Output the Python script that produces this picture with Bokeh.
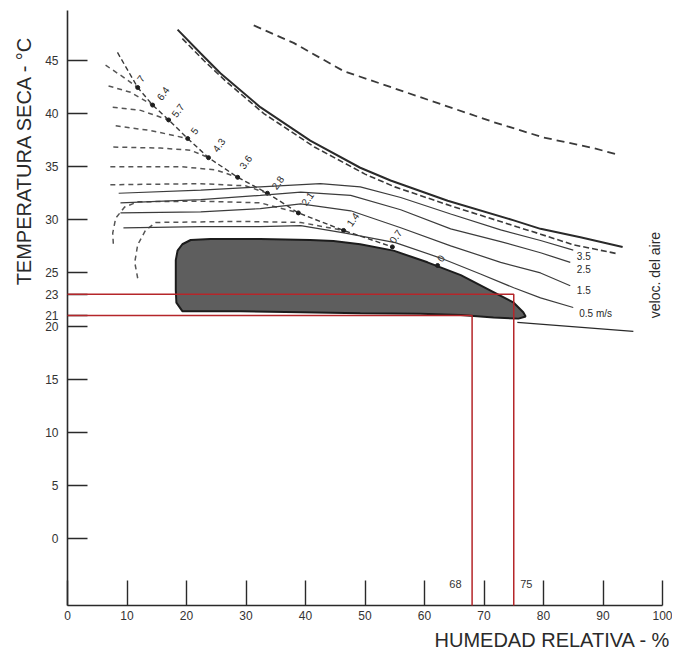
import math
from bokeh.plotting import figure
from bokeh.models import Range1d, FixedTicker, Title
from bokeh.core.properties import value
from bokeh.embed import file_html
from bokeh.resources import INLINE

# ---------------- data (RH %, dry temperature degC) ----------------
x_ticks = [0, 10, 20, 30, 40, 50, 60, 70, 80, 90, 100]
y_ticks = [0, 5, 10, 15, 20, 21, 23, 25, 30, 35, 40, 45]

# comfort zone outline
zone_rh = [19.3, 18.3, 18.2, 18.2, 18.5, 19.3, 20.7, 24.0, 32.4, 40.8, 44.7, 49.2, 54.8, 60.5,
           66.1, 71.6, 75.0, 76.6, 77.0, 75.8, 71.6, 66.1, 59.3, 49.2, 39.2, 29.1, 19.3]
zone_t = [21.4, 22.2, 23.4, 26.2, 27.1, 27.7, 28.1, 28.2, 28.2, 28.1, 28.0, 27.7, 27.1, 26.0,
          24.8, 23.2, 22.2, 21.3, 20.9, 20.7, 20.8, 21.05, 21.15, 21.2, 21.3, 21.4, 21.4]

# lower limit extension
low_rh = [75.6, 95.1]
low_t = [20.35, 19.5]

# upper limit (solid) and its dashed companion
upper_rh = [18.5, 22.4, 25.7, 32.4, 40.8, 49.2, 54.3, 63.9, 75.0, 79.5, 86.2, 93.3]
upper_t = [47.9, 45.65, 43.8, 40.6, 37.45, 34.9, 33.7, 31.8, 29.95, 29.15, 28.35, 27.45]
upper2_rh = [19.3, 23.0, 26.5, 33.0, 41.5, 50.0, 55.0, 64.5, 75.5, 79.5, 85.0, 92.5]
upper2_t = [47.05, 44.95, 43.1, 40.0, 36.85, 34.3, 33.1, 31.3, 29.35, 28.65, 27.65, 26.8]

# top dashed curve
top_rh = [31.3, 38.0, 46.4, 54.8, 63.2, 71.6, 80.0, 88.4, 92.4]
top_t = [48.3, 46.65, 44.0, 42.4, 40.8, 39.2, 37.75, 36.75, 36.15]

# diagonal dashed line with moisture markers
diag_rh = [8.4, 11.8, 14.3, 17.0, 20.2, 23.7, 28.6, 33.6, 38.8, 46.4, 54.6]
diag_t = [45.75, 42.45, 40.8, 39.4, 37.65, 35.85, 34.0, 32.5, 30.65, 29.0, 27.45]
mark_rh = [11.8, 14.3, 17.0, 20.2, 23.7, 28.6, 33.6, 38.8, 46.4, 54.6, 62.2]
mark_t = [42.45, 40.8, 39.4, 37.65, 35.85, 34.0, 32.5, 30.65, 29.0, 27.45, 25.7]
mark_lbl = ["7", "6.4", "5.7", "5", "4.3", "3.6", "2.8", "2.1", "1.4", "0.7", "0"]
mlbl_rh = [12.3, 16.0, 18.5, 21.3, 25.4, 29.9, 35.3, 40.3, 47.9, 55.1, 62.7]
mlbl_t = [43.3, 41.9, 40.3, 38.4, 37.05, 35.45, 33.5, 32.0, 30.05, 28.45, 26.4]

# fan of dashed lines
fan = [
    ([6.4, 9.2, 11.8], [44.55, 43.5, 42.45]),
    ([6.9, 10.6, 14.3], [42.6, 42.0, 40.8]),
    ([7.6, 12.3, 17.0], [40.6, 40.3, 39.4]),
    ([8.1, 14.0, 20.2], [38.85, 38.4, 37.65]),
    ([7.7, 15.6, 20.7, 23.7], [36.85, 36.75, 36.55, 35.85]),
    ([7.2, 19.0, 24.9, 28.6], [35.0, 35.0, 34.7, 34.0]),
    ([7.2, 22.4, 29.9, 33.6], [33.3, 33.4, 33.2, 32.5]),
    ([7.7, 7.6, 8.1, 9.6, 11.8, 22.4, 32.4, 38.8], [27.75, 28.75, 30.15, 31.2, 31.7, 31.75, 31.6, 30.65]),
    ([11.8, 11.3, 11.8, 13.1, 14.8, 29.1, 39.2, 46.4], [24.5, 26.0, 27.65, 29.0, 29.75, 29.85, 29.75, 29.0]),
]

# air velocity lines
v35_rh = [8.6, 22.4, 32.4, 42.5, 49.2, 56.0, 64.4, 72.8, 79.5, 85.0]
v35_t = [32.5, 32.8, 33.1, 33.4, 33.1, 32.1, 30.55, 29.05, 28.05, 27.15]
v25_rh = [8.9, 22.4, 32.4, 39.2, 47.6, 56.0, 64.4, 72.8, 79.5, 84.5]
v25_t = [31.6, 31.9, 32.3, 32.6, 32.3, 30.95, 29.15, 27.95, 26.9, 26.0]
v15_rh = [8.9, 22.4, 32.4, 39.2, 47.6, 56.0, 64.4, 72.8, 79.5, 84.5]
v15_t = [30.65, 30.75, 31.05, 31.5, 30.85, 29.25, 27.55, 26.0, 25.0, 23.8]
v05_rh = [9.4, 22.4, 32.4, 39.2, 46.7, 55.1, 62.7, 69.4, 75.0, 79.5, 85.0]
v05_t = [29.25, 29.35, 29.35, 29.45, 28.75, 27.85, 26.4, 24.9, 23.6, 22.65, 21.75]
vel_lbl = ["3.5", "2.5", "1.5", "0.5 m/s"]
vel_lbl_rh = [85.6, 85.6, 85.6, 86.0]
vel_lbl_t = [26.6, 25.4, 23.4, 21.15]

# red reading lines
red_t = [23, 21]
red_rh = [75, 68]
red_lbl = ["68", "75"]
red_lbl_rh = [65.2, 77.1]
red_lbl_t = [-4.25, -4.25]

FONT = "Liberation Sans"
INK = "#2a2a2a"

p = figure(width=672, height=657, x_range=Range1d(0, 100), y_range=Range1d(-6.3, 49.7),
           output_backend="svg", toolbar_location=None,
           min_border_left=67, min_border_right=10, min_border_top=10, min_border_bottom=52)
p.grid.visible = False
p.outline_line_color = None
p.background_fill_color = "white"

for ax in (p.xaxis[0], p.yaxis[0]):
    ax.major_tick_out = 0
    ax.minor_tick_line_color = None
    ax.axis_line_color = INK
    ax.axis_line_width = 1.6
    ax.major_tick_line_color = INK
    ax.major_tick_line_width = 1.4
    ax.major_label_text_font = FONT
    ax.major_label_text_font_size = "12px"
    ax.major_label_text_color = "#333333"

p.xaxis.ticker = FixedTicker(ticks=x_ticks)
p.xaxis.major_tick_in = 25
p.xaxis.major_label_standoff = 5
p.yaxis.ticker = FixedTicker(ticks=y_ticks)
p.yaxis.major_tick_in = 20
p.yaxis.major_label_standoff = 9

p.add_layout(Title(text="HUMEDAD RELATIVA - %", align="right", offset=-8, text_font=FONT,
                   text_font_size="20px", text_font_style="normal", text_color=INK,
                   standoff=9), "below")
p.add_layout(Title(text="TEMPERATURA SECA - \u00b0C", align="right", offset=25, text_font=FONT,
                   text_font_size="20px", text_font_style="normal", text_color=INK,
                   standoff=16), "left")

# comfort zone
p.patch(zone_rh, zone_t, fill_color="#5e5e5e", line_color="#1c1c1c", line_width=2)
p.line(low_rh, low_t, line_color=INK, line_width=1.4)

# upper curves
p.line(upper_rh, upper_t, line_color=INK, line_width=2)
p.line(upper2_rh, upper2_t, line_color="#3a3a3a", line_width=1.6, line_dash="6 3")
p.line(top_rh, top_t, line_color="#3a3a3a", line_width=1.8, line_dash="8 5")

# fan dashed lines and diagonal
for frh, ft in fan:
    p.line(frh, ft, line_color="#555555", line_width=1.5, line_dash="5 4")
p.line(diag_rh, diag_t, line_color="#3a3a3a", line_width=1.4, line_dash="5 3")
p.scatter(mark_rh, mark_t, size=4, color="#1e1e1e")
p.text(mlbl_rh, mlbl_t, text=mark_lbl, angle=0.95, text_font=value(FONT), text_font_size="10px",
       text_color=INK, text_align="center", text_baseline="middle")

# velocity lines
for vr, vt in ((v35_rh, v35_t), (v25_rh, v25_t), (v15_rh, v15_t), (v05_rh, v05_t)):
    p.line(vr, vt, line_color="#3c3c3c", line_width=1.2)
p.text(vel_lbl_rh, vel_lbl_t, text=vel_lbl, text_font=value(FONT), text_font_size="10px",
       text_color=INK, text_align="left", text_baseline="middle")
p.text([98.8], [24.8], text=["veloc. del aire"], angle=math.pi / 2, text_font=value(FONT),
       text_font_size="14px", text_color=INK, text_align="center", text_baseline="middle")

# red reading lines
y0 = p.y_range.start
for t, rh in zip(red_t, red_rh):
    p.line([0, rh, rh], [t, t, y0], line_color="#b5262a", line_width=1.5, level="overlay")
p.text(red_lbl_rh, red_lbl_t, text=red_lbl, text_font=value(FONT), text_font_size="11px",
       text_color="#333333", text_align="center", text_baseline="middle")

open("out.html", "w").write(file_html(p, INLINE))
